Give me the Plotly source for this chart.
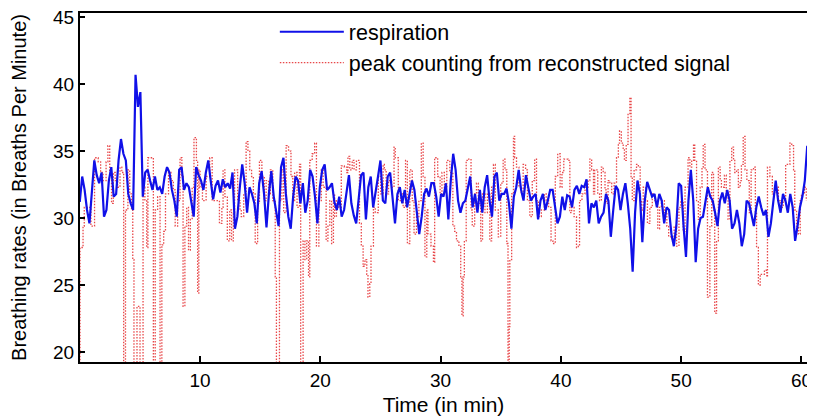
import plotly.graph_objects as go

# --- respiration rate, one sample every ~0.2 min over the hour ---
resp = [
    31.2, 33.1, 32.1, 30.6, 29.6, 31.8, 34.3, 33.2, 32.6, 33.4,
    30.1, 30.6, 32.8, 33.8, 31.6, 31.8, 34.3, 35.9, 34.8, 34.3,
    31.8, 31.1, 30.6, 40.7, 38.3, 39.4, 31.6, 33.4, 33.6, 32.8,
    32.1, 33.1, 32.1, 32.3, 31.8, 33.1, 33.8, 33.4, 32.1, 31.3,
    30.1, 33.6, 33.8, 32.1, 32.6, 32.3, 31.2, 30.1, 33.8, 33.2,
    32.8, 32.1, 33.4, 34.3, 32.8, 31.4, 32.4, 32.8, 31.9, 32.9,
    32.3, 32.6, 32.2, 33.4, 29.2, 30.1, 32.3, 34.0, 32.6, 30.4,
    32.3, 31.8, 31.1, 29.6, 32.6, 33.5, 31.8, 29.3, 31.8, 33.5,
    31.6, 30.6, 29.4, 33.8, 34.5, 31.8, 30.1, 29.2, 31.6, 33.1,
    32.8, 31.1, 32.6, 30.4, 31.3, 33.6, 33.1, 31.6, 29.6, 32.3,
    33.6, 34.0, 32.1, 32.3, 32.6, 31.2, 30.6, 31.6, 30.1, 30.6,
    31.8, 33.2, 31.1, 30.2, 29.6, 31.3, 33.2, 33.4, 29.9, 32.3,
    33.1, 30.8, 31.8, 33.1, 34.3, 31.3, 31.1, 33.1, 33.4, 31.6,
    29.6, 31.8, 32.3, 31.1, 32.1, 30.8, 31.7, 32.8, 32.1, 30.4,
    28.8, 30.1, 31.8, 32.2, 31.6, 32.6, 32.6, 31.6, 30.1, 31.8,
    31.6, 32.6, 29.9, 32.8, 34.8, 33.6, 31.3, 30.4, 31.1, 31.3,
    32.2, 33.1, 30.8, 31.8, 30.4, 32.1, 30.4, 32.3, 33.2, 31.3,
    30.1, 33.1, 33.4, 31.3, 31.8, 31.8, 32.2, 31.1, 29.2, 31.6,
    32.3, 33.6, 32.1, 31.3, 33.2, 32.3, 31.3, 31.6, 31.8, 29.9,
    31.3, 31.8, 30.6, 31.3, 32.1, 32.1, 30.8, 29.6, 30.1, 31.6,
    30.6, 31.7, 31.6, 30.8, 32.1, 32.4, 31.8, 32.4, 32.3, 32.9,
    29.6, 31.1, 30.8, 31.3, 29.6, 30.1, 30.4, 31.8, 31.3, 28.6,
    30.6, 32.4, 32.1, 30.6, 31.8, 32.6, 31.1, 29.2, 26.0, 30.4,
    32.8, 31.8, 28.2, 31.3, 32.7, 32.1, 31.6, 31.8, 30.8, 31.8,
    31.3, 29.6, 30.8, 30.6, 28.8, 27.9, 29.4, 32.6, 32.4, 29.4,
    27.1, 31.3, 33.6, 31.3, 26.7, 29.2, 30.0, 30.1, 31.3, 32.3,
    31.6, 31.3, 30.4, 29.4, 31.3, 31.9, 31.1, 32.1, 31.3, 29.2,
    29.6, 30.6, 29.6, 27.9, 28.8, 31.3, 31.1, 30.1, 29.4, 30.8,
    31.6, 30.8, 30.2, 30.6, 28.6, 29.6, 31.3, 32.8, 31.3, 30.4,
    31.8, 31.3, 30.4, 31.8, 30.8, 28.3, 29.4, 30.8, 31.6, 32.8,
    35.4,
]
resp_t = [round(0.2016 * i, 3) for i in range(len(resp))]

# --- peak counting from reconstructed signal (value changes at these times) ---
peak_t_read = [
    0.0, 0.1, 0.35, 0.45, 1.0, 1.3, 1.6, 1.8, 2.0, 2.25, 2.4, 2.55, 2.7, 2.85,
    3.0, 3.2, 3.4, 3.55, 3.7, 3.85, 4.05, 4.2, 4.35, 4.45, 4.55, 4.8, 5.05,
    5.3, 5.45, 5.6, 5.7, 6.15, 6.3, 6.5, 6.7, 6.85, 7.0, 7.15, 7.4, 7.6, 7.8,
    7.95, 8.15, 8.35, 8.5, 8.6, 8.75, 8.9, 9.05, 9.2, 9.35, 9.5, 9.7, 9.8, 9.9,
    10.0, 10.2, 10.5, 10.8, 11.0, 11.4, 11.6, 11.8, 11.9, 12.05, 12.25, 12.45,
    12.6, 12.75, 12.85, 13.1, 13.3, 13.4, 13.6, 13.8, 13.95, 14.1, 14.25, 14.4,
    14.55, 14.75, 14.9, 15.1, 15.3, 15.45, 15.65, 15.8, 16.0, 16.2, 16.3,
    16.55, 16.75, 16.9, 17.1, 17.3, 17.5, 17.65, 17.8, 18.0, 18.2, 18.3, 18.5,
    18.65, 18.8, 18.95, 19.05, 19.25, 19.45, 19.6, 19.8, 20.0,
    20.15, 20.4, 20.55, 20.7, 20.85, 21.0, 21.1, 21.25, 21.45, 21.65, 21.9,
    22.1, 22.2, 22.35, 22.55, 22.7, 22.9, 23.15, 23.3, 23.45, 23.6, 23.75,
    23.85, 24.0, 24.1, 24.3, 24.45, 24.7, 24.9, 25.1, 25.2, 25.35, 25.55, 25.8,
    26.0, 26.1, 26.35, 26.55, 26.75, 26.95, 27.1, 27.3, 27.5, 27.65, 27.85,
    28.05, 28.25, 28.4, 28.55, 28.7, 28.8, 29.05, 29.25, 29.35, 29.6, 29.8,
    29.95, 30.15, 30.35, 30.6, 30.85, 31.0, 31.15, 31.35, 31.5, 31.6, 31.7,
    31.8, 31.95, 32.15, 32.35, 32.45, 32.65, 32.8, 32.95, 33.15, 33.3, 33.5,
    33.7, 33.9, 34.05, 34.2, 34.35, 34.6, 34.8, 35.0, 35.15, 35.3, 35.4, 35.5,
    35.55, 35.7, 35.85, 35.95, 36.1, 36.3, 36.5, 36.65, 36.85, 37.0, 37.2,
    37.4, 37.6, 37.75, 37.9, 38.15, 38.4, 38.55, 38.75, 38.95, 39.1, 39.3,
    39.5, 39.7, 39.85, 40.0, 40.35, 40.5, 40.65, 40.85, 41.05, 41.2, 41.3,
    41.5, 41.75, 42.0, 42.15, 42.3, 42.45, 42.55, 42.8, 42.95, 43.1, 43.25,
    43.4, 43.5, 43.65, 43.8, 43.95, 44.15, 44.35, 44.5, 44.6, 44.75, 44.9,
    45.0, 45.15, 45.3, 45.45, 45.55, 45.65, 45.8, 46.0, 46.15, 46.3, 46.4,
    46.55, 46.75, 46.9, 47.1, 47.3, 47.5, 47.75, 47.9, 48.05, 48.3, 48.5,
    48.65, 48.9, 49.1, 49.3, 49.5, 49.65, 49.85, 50.0, 50.25, 50.4, 50.55,
    50.7, 50.8, 50.95, 51.1, 51.25, 51.4, 51.5, 51.65, 51.85, 52.05, 52.2,
    52.35, 52.45, 52.6, 52.75, 52.9, 53.0, 53.25, 53.4, 53.55, 53.7, 53.85,
    54.0, 54.1, 54.25, 54.4, 54.55, 54.65, 54.8, 54.95, 55.1, 55.3, 55.45,
    55.65, 55.8, 55.9, 56.05, 56.2, 56.55, 56.75, 56.8, 57.0, 57.2, 57.4,
    57.7, 57.9, 58.1, 58.3, 58.5, 58.65, 58.8, 58.95, 59.05, 59.2, 59.35,
    59.5, 59.6, 59.85, 60.0,
]
peak_v = [
    15.0, 27.8, 29.4, 30.8, 29.4, 34.5, 34.2, 33.4, 32.8, 34.2, 35.4, 33.4, 31.1, 33.4,
    32.8, 32.3, 33.8, 33.4, 15.0, 30.6, 33.6, 31.8, 30.6, 26.9, 15.0, 23.4, 15.0,
    32.3, 31.3, 27.8, 34.5, 15.0, 30.6, 31.6, 15.0, 28.0, 29.0, 31.8, 33.4, 32.8, 32.1,
    29.4, 31.3, 34.5, 33.1, 23.4, 29.4, 30.8, 27.6, 29.9, 32.3, 36.0, 34.3, 24.4, 33.6,
    32.3, 31.3, 33.1, 34.5, 31.3, 31.3, 29.6, 30.8, 33.6, 31.6, 28.3, 30.6,
    28.3, 30.4, 33.6, 31.3, 30.6, 30.1, 31.8, 35.7, 35.0, 33.6, 33.1, 31.8,
    28.1, 31.1, 34.3, 33.1, 31.3, 32.8, 31.8, 33.6, 31.3, 25.6, 15.0,
    31.3, 33.6, 30.4, 35.4, 35.0, 33.1, 31.3, 33.4, 30.8, 34.0, 15.0, 28.3,
    26.9, 28.3, 25.6, 34.3, 34.8, 35.6, 27.9, 31.3, 33.6,
    32.3, 28.3, 29.4, 31.3, 28.1, 31.8, 30.1, 31.3, 30.8, 33.9, 33.8,
    33.4, 34.6, 33.6, 34.3, 33.6, 34.3, 29.6, 27.9, 26.4, 26.9, 25.8,
    24.1, 25.1, 27.9, 30.8, 30.4, 33.1, 31.8, 34.0, 33.6, 31.8, 32.8, 32.3,
    35.3, 34.5, 31.3, 31.8, 30.8, 34.3, 28.1, 33.6, 31.3, 28.8, 30.1,
    31.3, 35.6, 33.1, 27.1, 30.6, 28.8, 27.9, 26.7, 34.5, 33.1, 31.8,
    33.4, 32.3, 34.3, 33.4, 29.4, 29.0, 28.3, 27.9, 25.6, 22.7, 25.6,
    28.3, 34.3, 34.4, 30.6, 29.4, 31.8, 32.6, 31.1, 28.3, 31.8, 30.4,
    31.8, 28.3, 32.3, 34.0, 30.6, 28.6, 32.6, 34.4, 33.6, 28.1, 15.0, 21.9,
    26.9, 31.8, 36.1, 34.5, 33.8, 32.3, 31.8, 34.0, 33.6, 31.3, 30.1,
    32.8, 34.4, 31.3, 30.1, 30.6, 31.8, 31.3, 30.8, 28.3, 28.1, 33.1,
    34.8, 32.3, 33.4, 34.4, 34.3, 30.4, 30.8, 30.1, 27.8, 27.9, 31.3,
    31.8, 32.3, 32.8, 34.4, 33.6, 31.8, 33.6, 31.8, 31.3, 33.8, 33.4,
    32.1, 31.1, 32.8, 32.6, 31.8, 32.6, 34.5, 35.6, 36.5, 35.6, 35.2,
    34.3, 35.5, 37.8, 39.0, 33.1, 31.3, 33.6, 34.0, 33.8, 31.3, 30.6,
    32.3, 31.3, 29.6, 30.8, 31.8, 31.3, 29.2, 30.8, 31.3, 30.4, 29.4,
    28.6, 28.3, 29.4, 27.9, 30.8, 31.3, 29.0, 32.3, 34.5, 33.8, 34.3,
    35.5, 34.3, 31.3, 29.9, 32.3, 33.8, 35.5, 33.6, 24.1, 29.4, 33.4,
    30.6, 22.9, 28.3, 33.8, 32.8, 32.3, 33.2, 31.8, 29.9, 34.3, 35.3,
    34.3, 33.4, 33.6, 32.3, 32.8, 34.0, 36.1, 33.6, 32.8, 30.4, 33.6,
    33.8, 30.4, 27.8, 25.0, 25.8, 26.1, 25.6, 33.8, 33.1, 31.8, 32.3,
    31.3, 30.8, 31.3, 34.0, 34.0, 35.6, 35.4, 33.6, 30.6, 29.4, 28.8,
    31.3, 31.8, 32.3, 31.3,
]
# the read times were taken with a slightly short x scale; recalibrate around t=10
peak_t = [round(10 + (t - 10) * 1.008, 3) for t in peak_t_read]

FONT = "Liberation Sans, Arial, sans-serif"

fig = go.Figure()
fig.add_trace(go.Scatter(
    x=peak_t, y=peak_v, mode="lines", name="peak counting from reconstructed signal",
    line=dict(color="#e8484a", width=1.3, dash="1.5px,1.5px", shape="hv"),
    legendrank=2,
))
fig.add_trace(go.Scatter(
    x=resp_t, y=resp, mode="lines", name="respiration",
    line=dict(color="#1010e8", width=2.2),
    legendrank=1,
))

# the page puts the figure 8px in from the top-left corner, so size it to fit the window
fig.update_layout(
    width=807, height=410,
    margin=dict(l=72, r=8, t=5, b=56, autoexpand=False),
    paper_bgcolor="white", plot_bgcolor="white",
    font=dict(family=FONT, size=19, color="black"),
    showlegend=True,
    legend=dict(x=0.268, y=1.005, xanchor="left", yanchor="top",
                bgcolor="rgba(0,0,0,0)", font=dict(size=21.5),
                itemwidth=64, tracegroupgap=0),
)
fig.update_xaxes(
    range=[0.02, 60.46], tickvals=[10, 20, 30, 40, 50, 60],
    ticks="inside", ticklen=6, tickwidth=1.5, tickcolor="black",
    showline=True, linewidth=2, linecolor="black", mirror=True,
    showgrid=False, zeroline=False, automargin=False,
    ticklabeloverflow="allow",
    title=dict(text="Time (in min)", font=dict(size=21), standoff=8),
)
fig.update_yaxes(
    range=[19.25, 45.31], tickvals=[20, 25, 30, 35, 40, 45],
    ticks="inside", ticklen=5, tickwidth=1.5, tickcolor="black",
    showline=True, linewidth=2, linecolor="black", mirror=True,
    showgrid=False, zeroline=False, automargin=False,
    ticklabeloverflow="allow",
    title=dict(text="Breathing rates (in Breaths Per Minute)", font=dict(size=20), standoff=23),
)

fig.write_html("out.html")
